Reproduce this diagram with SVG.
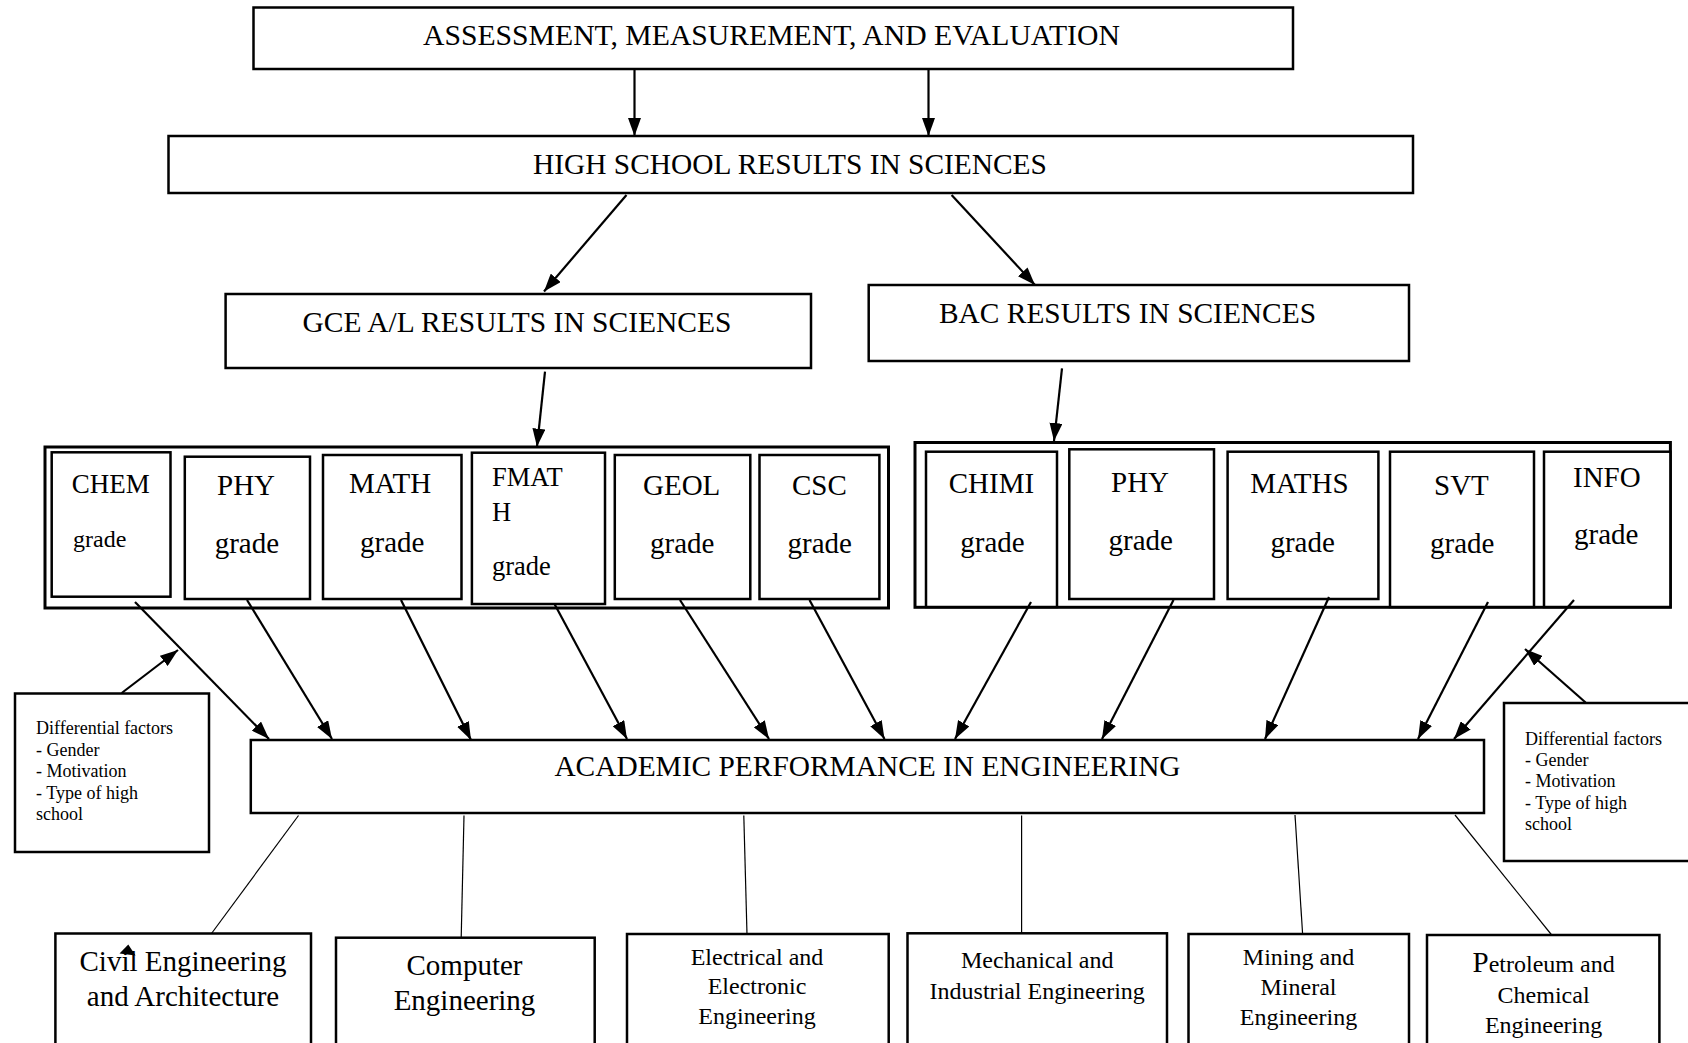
<svg xmlns="http://www.w3.org/2000/svg" width="1688" height="1043" viewBox="0 0 1688 1043">
<defs>
<marker id="ah" markerUnits="userSpaceOnUse" markerWidth="20" markerHeight="13" refX="18" refY="6.5" orient="auto">
<path d="M0,0 L18,6.5 L0,13 z" fill="#000"/>
</marker>
<style>
.box{fill:#fff;stroke:#000;stroke-width:2.5}
.cont{fill:#fff;stroke:#000;stroke-width:3}
text{font-family:"Liberation Serif","Times New Roman",serif;fill:#000}
.t29{font-size:29px}
.h29{font-size:29.4px}
.t24{font-size:24px}
.t18{font-size:18px}
.arr{stroke:#000;stroke-width:2.2;fill:none;marker-end:url(#ah)}
.thin{stroke:#000;stroke-width:1.2;fill:none}
.mid{text-anchor:middle}
</style>
</defs>
<rect width="1688" height="1043" fill="#fff"/>

<g id="assessment">
<rect class="box" x="253.5" y="7.5" width="1039.5" height="61.5"/>
<text style="font-size:29.7px" x="423" y="45">ASSESSMENT, MEASUREMENT, AND EVALUATION</text>
</g>

<g id="highschool">
<rect class="box" x="168.5" y="136" width="1244.5" height="57"/>
<text class="h29" x="533" y="174">HIGH SCHOOL RESULTS IN SCIENCES</text>
</g>

<g id="gce">
<rect class="box" x="225.6" y="294" width="585.4" height="74"/>
<text style="font-size:29.5px" x="302.5" y="331.5">GCE A/L RESULTS IN SCIENCES</text>
</g>

<g id="bac">
<rect class="box" x="868.7" y="285" width="540.3" height="76"/>
<text class="h29" x="939" y="322.5">BAC RESULTS IN SCIENCES</text>
</g>

<g id="gce-grades">
<rect class="cont" x="45" y="447" width="843.5" height="161"/>
<g id="gce-chem">
<rect class="box" x="51.7" y="452.3" width="118.8" height="144.4"/>
<text style="font-size:27px" x="71.8" y="493">CHEM</text>
<text class="t24" x="73" y="547">grade</text>
</g>
<g id="gce-phy">
<rect class="box" x="184.8" y="456.7" width="125.2" height="142.3"/>
<text class="t29" x="217" y="495">PHY</text>
<text class="t29" x="214.7" y="553">grade</text>
</g>
<g id="gce-math">
<rect class="box" x="323" y="455" width="138.5" height="144"/>
<text class="t29" x="349" y="493">MATH</text>
<text class="t29" x="360" y="552">grade</text>
</g>
<g id="gce-fmath">
<rect class="box" x="471.9" y="452.7" width="133.1" height="151.3"/>
<text style="font-size:26.5px" x="492" y="486">FMAT</text>
<text style="font-size:26.5px" x="492" y="521">H</text>
<text style="font-size:26.5px" x="492" y="575">grade</text>
</g>
<g id="gce-geol">
<rect class="box" x="614.8" y="455" width="135.5" height="144"/>
<text class="t29" x="643" y="495">GEOL</text>
<text class="t29" x="650" y="553">grade</text>
</g>
<g id="gce-csc">
<rect class="box" x="759.5" y="455" width="119.9" height="144"/>
<text class="t29" x="792" y="495">CSC</text>
<text class="t29" x="787.6" y="553">grade</text>
</g>
</g>

<g id="bac-grades">
<rect class="cont" x="915" y="442.5" width="755.4" height="164.8"/>
<g id="bac-chimi">
<rect class="box" x="926" y="451.7" width="131" height="155.3"/>
<text class="t29" x="948.7" y="493">CHIMI</text>
<text class="t29" x="960.3" y="552">grade</text>
</g>
<g id="bac-phy">
<rect class="box" x="1069.3" y="449.3" width="144.7" height="149.7"/>
<text class="t29" x="1111" y="492">PHY</text>
<text class="t29" x="1108.5" y="550">grade</text>
</g>
<g id="bac-maths">
<rect class="box" x="1227.6" y="451.7" width="150.8" height="147.3"/>
<text class="t29" x="1250.3" y="493">MATHS</text>
<text class="t29" x="1270.4" y="552">grade</text>
</g>
<g id="bac-svt">
<rect class="box" x="1390" y="451.7" width="144" height="155.3"/>
<text class="t29" x="1434" y="494.5">SVT</text>
<text class="t29" x="1430" y="553">grade</text>
</g>
<g id="bac-info">
<rect class="box" x="1544" y="451.7" width="126.4" height="155.3"/>
<text class="t29" x="1573" y="486.5">INFO</text>
<text class="t29" x="1574" y="544">grade</text>
</g>
</g>

<g id="academic">
<rect class="box" x="250.8" y="740" width="1233.2" height="73"/>
<text class="h29" x="554.4" y="776">ACADEMIC PERFORMANCE IN ENGINEERING</text>
</g>

<g id="diff-left">
<rect class="box" x="15" y="693.5" width="194" height="158.5"/>
<text class="t18" x="36" y="734">Differential factors</text>
<text class="t18" x="36" y="755.5">- Gender</text>
<text class="t18" x="36" y="777">- Motivation</text>
<text class="t18" x="36" y="798.5">- Type of high</text>
<text class="t18" x="36" y="820">school</text>
</g>

<g id="diff-right">
<rect class="box" x="1504" y="703" width="196" height="158"/>
<text class="t18" x="1525" y="744.5">Differential factors</text>
<text class="t18" x="1525" y="765.5">- Gender</text>
<text class="t18" x="1525" y="787">- Motivation</text>
<text class="t18" x="1525" y="808.5">- Type of high</text>
<text class="t18" x="1525" y="830">school</text>
</g>

<g id="eng-civil">
<rect class="box" x="55.4" y="933.5" width="255.6" height="120"/>
<text class="t29 mid" x="183" y="971">Civil Engineering</text>
<text class="t29 mid" x="183" y="1006">and Architecture</text>
<path d="M128.3,944.5 L135.5,955.5 L119.5,953.5 z" fill="#000"/>
</g>
<g id="eng-computer">
<rect class="box" x="336" y="937.7" width="258.7" height="120"/>
<text class="t29 mid" x="464.5" y="974.5">Computer</text>
<text class="t29 mid" x="464.5" y="1009.5">Engineering</text>
</g>
<g id="eng-electrical">
<rect class="box" x="627" y="934" width="261.7" height="120"/>
<text class="t24 mid" x="757" y="965">Electrical and</text>
<text class="t24 mid" x="757" y="994">Electronic</text>
<text class="t24 mid" x="757" y="1023.5">Engineering</text>
</g>
<g id="eng-mechanical">
<rect class="box" x="907.5" y="933.3" width="259.5" height="120"/>
<text class="t24 mid" x="1037.2" y="968">Mechanical and</text>
<text class="t24 mid" x="1037.2" y="998.5">Industrial Engineering</text>
</g>
<g id="eng-mining">
<rect class="box" x="1188.5" y="934" width="220.5" height="120"/>
<text class="t24 mid" x="1298.5" y="965">Mining and</text>
<text class="t24 mid" x="1298.5" y="994.5">Mineral</text>
<text class="t24 mid" x="1298.5" y="1024.5">Engineering</text>
</g>
<g id="eng-petroleum">
<rect class="box" x="1427" y="935" width="232.4" height="120"/>
<text class="t24 mid" x="1543.6" y="972"><tspan style="font-size:29px">P</tspan>etroleum and</text>
<text class="t24 mid" x="1543.6" y="1003">Chemical</text>
<text class="t24 mid" x="1543.6" y="1033">Engineering</text>
</g>

<g id="connectors">
<line class="arr" x1="634.5" y1="69" x2="634.5" y2="136"/>
<line class="arr" x1="928.5" y1="69" x2="928.5" y2="136"/>
<line class="arr" x1="626.5" y1="195" x2="544" y2="291.5"/>
<line class="arr" x1="951.6" y1="195" x2="1035" y2="285"/>
<line class="arr" x1="545" y1="371.7" x2="537" y2="446.7"/>
<line class="arr" x1="1062" y1="368.3" x2="1054" y2="441"/>

<line class="arr" x1="135" y1="602" x2="269" y2="739"/>
<line class="arr" x1="247" y1="600" x2="332" y2="739"/>
<line class="arr" x1="401" y1="600" x2="471" y2="740"/>
<line class="arr" x1="554.5" y1="604" x2="627" y2="739"/>
<line class="arr" x1="680" y1="600" x2="769" y2="739"/>
<line class="arr" x1="809.5" y1="600" x2="884.5" y2="739"/>
<line class="arr" x1="1031" y1="602" x2="955" y2="739"/>
<line class="arr" x1="1173.5" y1="600" x2="1102" y2="739"/>
<line class="arr" x1="1329" y1="597" x2="1265" y2="739"/>
<line class="arr" x1="1488" y1="602" x2="1418" y2="739"/>
<line class="arr" x1="1574" y1="600" x2="1454" y2="739"/>

<line class="arr" x1="121.7" y1="693" x2="178" y2="650"/>
<line class="arr" x1="1585.6" y1="702.5" x2="1525" y2="649"/>

<line class="thin" x1="298.5" y1="815.5" x2="211.5" y2="933.5"/>
<line class="thin" x1="464" y1="815.5" x2="461.2" y2="937.7"/>
<line class="thin" x1="743.8" y1="815.5" x2="747" y2="934"/>
<line class="thin" x1="1021.6" y1="815.5" x2="1021.6" y2="933.3"/>
<line class="thin" x1="1295" y1="815" x2="1302.6" y2="934"/>
<line class="thin" x1="1455" y1="815" x2="1551.7" y2="935"/>
</g>
</svg>
